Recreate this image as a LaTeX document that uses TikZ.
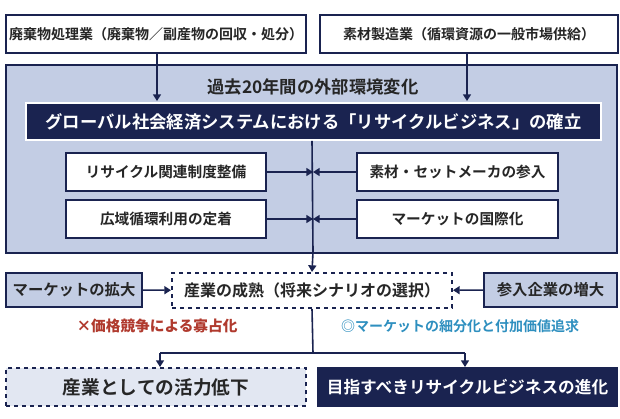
\documentclass[tikz,border=0pt]{standalone}
\usepackage{fontspec}
\setmainfont{Noto Sans CJK JP}[BoldFont={* Bold}]
\usetikzlibrary{arrows.meta}
\definecolor{navy}{HTML}{1A2350}
\definecolor{panel}{HTML}{C3CDE4}
\definecolor{pale}{HTML}{E2E7F2}
\definecolor{redt}{HTML}{B03A2E}
\definecolor{tealt}{HTML}{2E8FBF}
\begin{document}
\begin{tikzpicture}[x=0.75pt,y=-0.75pt,
  box/.style={draw=navy,line width=1.5pt,fill=white,inner sep=0pt,font=\bfseries\fontsize{11}{13}\selectfont,text=black!85},
  arr/.style={draw=navy,line width=1.2pt,-{Triangle[length=5pt,width=6pt]}},
  ln/.style={draw=navy,line width=1.2pt}]
\useasboundingbox (0,0) rectangle (620,418);
\node[box,font=\bfseries\fontsize{10.5}{12}\selectfont,minimum width=300*0.75pt,minimum height=38*0.75pt] (t1) at (156,34) {廃棄物処理業（廃棄物／副産物の回収・処分）};
\node[box,font=\bfseries\fontsize{10.5}{12}\selectfont,minimum width=298*0.75pt,minimum height=38*0.75pt] (t2) at (469,34) {素材製造業（循環資源の一般市場供給）};
\node[draw=navy,line width=1.5pt,fill=panel,minimum width=611*0.75pt,minimum height=188*0.75pt] (panel) at (311.5,159) {};
\node[font=\bfseries\fontsize{13}{15}\selectfont,text=black!85] (title) at (313,87) {過去20年間の外部環境変化};
\node[draw=white,line width=1.2pt,fill=navy,text=white,font=\bfseries\fontsize{13}{16}\selectfont,minimum width=575*0.75pt,minimum height=37*0.75pt] (banner) at (313.5,121.5) {グローバル社会経済システムにおける「リサイクルビジネス」の確立};
\node[box,minimum width=200*0.75pt,minimum height=38*0.75pt] (b1) at (166,172) {リサイクル関連制度整備};
\node[box,minimum width=200*0.75pt,minimum height=38*0.75pt] (b2) at (166,219) {広域循環利用の定着};
\node[box,minimum width=201*0.75pt,minimum height=38*0.75pt] (b3) at (457.5,172) {素材・セットメーカの参入};
\node[box,minimum width=201*0.75pt,minimum height=38*0.75pt] (b4) at (457.5,219) {マーケットの国際化};
\node[box,fill=panel,font=\bfseries\fontsize{11.5}{13}\selectfont,minimum width=136*0.75pt,minimum height=34*0.75pt] (m1) at (74,290) {マーケットの拡大};
\node[box,dashed,font=\bfseries\fontsize{12}{14}\selectfont,minimum width=280*0.75pt,minimum height=35*0.75pt] (mat) at (312,290.5) {産業の成熟（将来シナリオの選択）};
\node[box,fill=panel,font=\bfseries\fontsize{11.5}{13}\selectfont,minimum width=133*0.75pt,minimum height=34*0.75pt] (m2) at (550.5,290) {参入企業の増大};
\node[font=\bfseries\itshape\fontsize{11}{13}\selectfont,text=redt] (lr) at (157,326) {×価格競争による寡占化};
\node[font=\bfseries\fontsize{10.5}{12}\selectfont,text=tealt] (lt) at (460,326) {◎マーケットの細分化と付加価値追求};
\node[box,dashed,fill=pale,minimum width=300*0.75pt,minimum height=38*0.75pt,font=\bfseries\fontsize{14}{16}\selectfont] (o1) at (156,387) {産業としての活力低下};
\node[draw=navy,fill=navy,text=white,line width=1.5pt,minimum width=299*0.75pt,minimum height=38*0.75pt,font=\bfseries\fontsize{12.5}{14}\selectfont] (o2) at (467.5,387) {目指すべきリサイクルビジネスの進化};
\coordinate (c1) at (157,101); \coordinate (c2) at (467,101);
\coordinate (v1) at (313,172); \coordinate (v2) at (313,219);
\coordinate (sp) at (313,353); \coordinate (sl) at (160,353); \coordinate (sr) at (465,353);
\draw[arr] (t1.south -| c1) -- (c1);
\draw[arr] (t2.south -| c2) -- (c2);
\draw[ln] (banner.south -| mat) -- (313,252);
\draw[arr] (313,252) -- (mat.north);
\draw[arr] (b1) -- (v1); \draw[arr] (b2) -- (v2);
\draw[arr] (b3) -- (v1); \draw[arr] (b4) -- (v2);
\draw[arr] (m1) -- (mat); \draw[arr] (m2) -- (mat);
\draw[ln] (mat.south) -- (sp);
\draw[arr] (sl) -- (sl |- o1.north) ; \draw[ln] (sl) -- (sr);
\draw[arr] (sr) -- (sr |- o2.north);
\end{tikzpicture}
\end{document}
